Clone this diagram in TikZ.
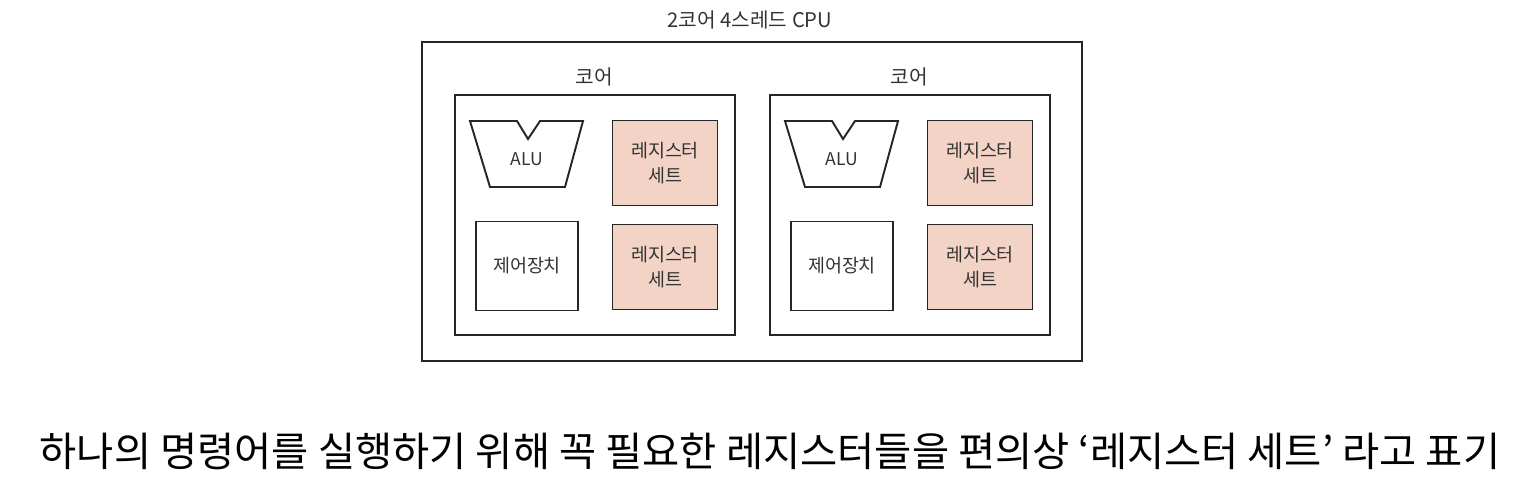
\documentclass[tikz,border=0pt]{standalone}
\usepackage{fontspec}
\setmainfont{Noto Sans CJK KR}
\usetikzlibrary{positioning}
\definecolor{inkline}{HTML}{262626}
\definecolor{inktext}{HTML}{333333}
\definecolor{regfill}{HTML}{F3D3C5}
\tikzset{
  regbox/.style={draw=inkline, fill=regfill, minimum width=2.1cm,
    minimum height=1.7cm, align=center, inner sep=0pt},
  ctrlbox/.style={draw=inkline, fill=white, minimum width=2.04cm,
    minimum height=1.78cm, inner sep=0pt}}

\begin{document}
\begin{tikzpicture}[x=0.02cm, y=-0.02cm, line width=1.1pt, text=inktext,
    font=\fontsize{10.5}{14}\selectfont]
  \useasboundingbox (0,0) rectangle (1534,496);
  \node[font=\fontsize{11.5}{13}\selectfont] (title) at (750,20) {2코어 4스레드 CPU};
  \draw[inkline] (422,42) rectangle (1082,361);
  \foreach \dx [count=\i from 1] in {0, 315}{%
    \node[font=\fontsize{11.5}{13}\selectfont] (corelab\i) at (594+\dx,77) {코어};
    \draw[inkline] (455+\dx,95) rectangle (735+\dx,335);
    \node[font=\fontsize{10}{12}\selectfont] (alu\i) at (527+\dx,159) {ALU};
    \draw[inkline] (470+\dx,121) -- (517+\dx,121) -- (528+\dx,139)
      -- (540+\dx,121) -- (583+\dx,121) -- (565+\dx,187) -- (490+\dx,187) -- cycle;
    \node[regbox] (regtop\i) at (665+\dx,163) {레지스터\\세트};
    \node[ctrlbox] (ctrl\i) at (527+\dx,266) {제어장치};
    \node[regbox] (regbot\i) at (665+\dx,267) {레지스터\\세트};}
  \node[font=\fontsize{23}{27}\selectfont, text=black] (caption) at (770,451)
    {하나의 명령어를 실행하기 위해 꼭 필요한 레지스터들을 편의상 ‘레지스터 세트’ 라고 표기};
\end{tikzpicture}
\end{document}
